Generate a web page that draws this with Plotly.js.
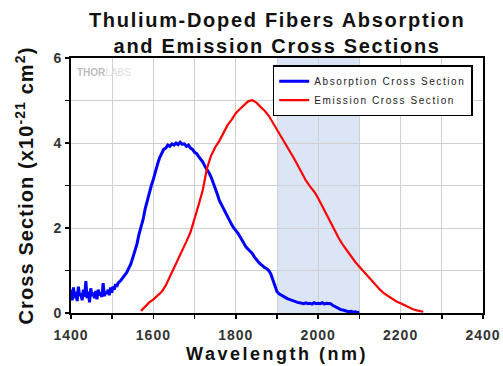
<!DOCTYPE html>
<html><head><meta charset="utf-8">
<script src="https://cdn.plot.ly/plotly-3.0.1.min.js"></script>
<style>
html,body{margin:0;padding:0;background:#fff;}
#chart{width:503px;height:366px;}
.legendtext{letter-spacing:1.6px;}
.gtitle{letter-spacing:1.7px;}
.xtitle{letter-spacing:2.5px;}
.ytitle{letter-spacing:1.1px;}
.xtick text,.ytick text{letter-spacing:1px;}
</style>
</head><body><div id="chart"></div>
<script>
// Absorption cross section (x1e-21 cm^2)
const absWl = [1400,1403,1406,1409,1412,1415,1418,1421,1424,1427,1430,1433,1436,1439,1442,1445,1448,1451,1454,1457,1460,1463,1466,1469,1472,1475,1478,1481,1484,1487,1490,1493,1496,1499,1502,1505,1508,1511,1514,1517,1520,1525,1530,1535,1540,1545,1550,1555,1560,1565,1570,1575,1580,1585,1590,1595,1600,1605,1610,1615,1620,1625,1630,1635,1640,1645,1650,1655,1660,1665,1670,1675,1680,1685,1690,1695,1700,1705,1710,1715,1720,1725,1730,1735,1740,1745,1750,1755,1760,1765,1770,1775,1780,1785,1790,1795,1800,1805,1810,1815,1820,1825,1830,1835,1840,1845,1850,1855,1860,1865,1870,1875,1880,1885,1890,1895,1900,1905,1910,1915,1920,1925,1930,1935,1940,1945,1950,1955,1960,1965,1970,1975,1980,1985,1990,1995,2000,2005,2010,2015,2020,2025,2030,2035,2040,2045,2050,2055,2060,2065,2070,2075,2080,2085,2090,2095,2100];
const absVal = [0.55,0.30,0.60,0.35,0.50,0.28,0.62,0.40,0.45,0.30,0.55,0.38,0.75,0.35,0.50,0.25,0.58,0.40,0.48,0.35,0.52,0.32,0.55,0.42,0.45,0.38,0.70,0.40,0.50,0.45,0.55,0.42,0.60,0.48,0.62,0.55,0.68,0.62,0.70,0.72,0.76,0.82,0.88,0.95,1.05,1.15,1.30,1.45,1.62,1.85,2.00,2.20,2.45,2.65,2.85,3.00,3.15,3.35,3.50,3.65,3.75,3.85,3.88,3.95,3.92,3.98,3.95,4.00,3.96,4.02,3.97,3.98,3.92,3.95,3.88,3.85,3.78,3.75,3.68,3.62,3.55,3.45,3.38,3.30,3.20,3.08,2.95,2.80,2.65,2.55,2.45,2.35,2.25,2.18,2.08,2.00,1.95,1.88,1.80,1.72,1.62,1.55,1.50,1.45,1.40,1.32,1.25,1.20,1.15,1.10,1.07,1.04,1.00,0.92,0.78,0.60,0.50,0.45,0.42,0.38,0.36,0.34,0.32,0.30,0.28,0.26,0.25,0.24,0.23,0.22,0.24,0.22,0.23,0.21,0.24,0.22,0.23,0.22,0.24,0.21,0.23,0.22,0.22,0.18,0.15,0.12,0.10,0.08,0.07,0.05,0.04,0.03,0.04,0.02,0.03,0.01,0.02];

// Emission cross section (x1e-21 cm^2)
const emWl = [1570,1580,1590,1600,1610,1620,1630,1640,1650,1660,1670,1680,1690,1700,1710,1720,1730,1740,1750,1760,1770,1780,1790,1800,1810,1820,1830,1840,1850,1860,1870,1880,1890,1900,1910,1920,1930,1940,1950,1960,1970,1980,1990,2000,2010,2020,2030,2040,2050,2060,2070,2080,2090,2100,2110,2120,2130,2140,2150,2160,2170,2180,2190,2200,2210,2220,2230,2240,2250,2255];
const emVal = [0.05,0.15,0.25,0.32,0.40,0.50,0.65,0.85,1.05,1.25,1.45,1.68,1.90,2.20,2.55,2.90,3.40,3.70,3.90,4.05,4.25,4.42,4.55,4.70,4.80,4.90,4.98,5.01,4.95,4.85,4.76,4.64,4.48,4.32,4.15,3.98,3.82,3.66,3.48,3.30,3.12,2.98,2.86,2.70,2.51,2.32,2.13,1.94,1.76,1.60,1.46,1.33,1.20,1.09,0.98,0.87,0.76,0.65,0.55,0.46,0.39,0.32,0.27,0.23,0.18,0.13,0.09,0.06,0.04,0.03];

// Shaded band
const bandRange = [1900, 2100];

// Ticks
const xTickVals = [1400,1500,1600,1700,1800,1900,2000,2100,2200,2300,2400];
const xTickText = ['1400','','1600','','1800','','2000','','2200','','2400'];
const yTickVals = [0,1,2,3,4,5,6];
const yTickText = ['0','','2','','4','','6'];

const seriesNames = ['Absorption Cross Section','Emission Cross Section'];

const FONT = 'Arial, "Liberation Sans", sans-serif';

const data = [
  {x: absWl, y: absVal, type:'scatter', mode:'lines', name: seriesNames[0],
   line:{color:'#0000ff', width:3}},
  {x: emWl, y: emVal, type:'scatter', mode:'lines', name: seriesNames[1],
   line:{color:'#ff0000', width:2.2}}
];

const layout = {
  width:503, height:366,
  margin:{l:71, r:20, t:58, b:53},
  paper_bgcolor:'#fff', plot_bgcolor:'#fff',
  font:{family:FONT, color:'#111'},
  title:{text:'<b>Thulium-Doped Fibers Absorption<br>and Emission Cross Sections</b>',
    font:{family:FONT, size:20, color:'#111'}, x:0.551, xanchor:'center', y:0.927, yanchor:'top'},
  xaxis:{range:[1400,2400], tickmode:'array', tickvals:xTickVals, ticktext:xTickText,
    showgrid:true, gridcolor:'#d0d0d0', gridwidth:1,
    showline:true, linecolor:'#000', linewidth:2, mirror:true,
    ticks:'outside', ticklen:4, tickwidth:1.5, tickcolor:'#000',
    ticklabelstandoff:4,
    tickfont:{family:FONT, size:14, color:'#333', weight:'bold'},
    zeroline:false,
    title:{text:'<b>Wavelength (nm)</b>', font:{family:FONT, size:18, color:'#111'}, standoff:6}},
  yaxis:{range:[0,6], tickmode:'array', tickvals:yTickVals, ticktext:yTickText,
    showgrid:true, gridcolor:'#d0d0d0', gridwidth:1,
    showline:true, linecolor:'#000', linewidth:2, mirror:true,
    ticks:'outside', ticklen:4, tickwidth:1.5, tickcolor:'#000',
    tickfont:{family:FONT, size:14, color:'#333', weight:'bold'},
    zeroline:false,
    title:{text:'<b>Cross Section (x10<sup>-21</sup> cm<sup>2</sup>)</b>', font:{family:FONT, size:20, color:'#111'}, standoff:14}},
  shapes:[{type:'rect', xref:'x', yref:'paper', x0:bandRange[0], x1:bandRange[1], y0:0, y1:1,
    fillcolor:'#dce5f5', line:{width:0}, layer:'below'}],
  legend:{x:0.975, y:0.972, xanchor:'right', yanchor:'top', bgcolor:'#fff',
    bordercolor:'#000', borderwidth:1.5, font:{family:FONT, size:10, color:'#222'},
    tracegroupgap:0},
  annotations:[{text:'<b>THOR</b><span style="color:#dcdcdc">LABS</span>', xref:'paper', yref:'paper', x:0.01, y:0.945, xanchor:'left', yanchor:'middle',
    showarrow:false, font:{family:FONT, size:10, color:'#bdbdbd'}}],
  showlegend:true
};

Plotly.newPlot('chart', data, layout, {displayModeBar:false, staticPlot:true});
</script>
</body></html>
